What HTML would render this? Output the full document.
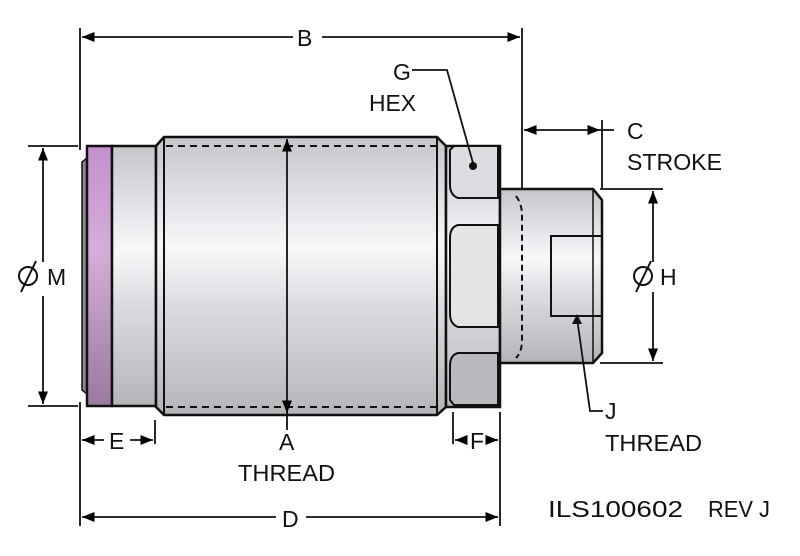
<!DOCTYPE html>
<html><head><meta charset="utf-8"><style>
html,body{margin:0;padding:0;background:#fff;}
svg{display:block;}
text{font-family:"Liberation Sans",sans-serif;font-size:23px;fill:#111;}
</style></head><body>
<svg width="800" height="556" viewBox="0 0 800 556" xmlns="http://www.w3.org/2000/svg">
<defs>
<linearGradient id="g" x1="0" y1="0" x2="0" y2="1">
<stop offset="0" stop-color="#c4c6ca"/><stop offset="0.4" stop-color="#f7f8fa"/><stop offset="0.6" stop-color="#dcdde0"/><stop offset="1" stop-color="#b4b5b8"/>
</linearGradient>
<linearGradient id="p" x1="0" y1="0" x2="0" y2="1">
<stop offset="0" stop-color="#c38fcc"/><stop offset="0.4" stop-color="#d4aed8"/><stop offset="1" stop-color="#9a7a9e"/>
</linearGradient>
<marker id="a" viewBox="0 0 10 10" refX="10" refY="5" markerWidth="7" markerHeight="7" orient="auto-start-reverse"><path d="M0,1 L10,5 L0,9z" fill="#000"/></marker>
</defs>
<g stroke="#111" stroke-width="2.5">
<path d="M87,158 L82,162 L82,390 L87,394z" fill="#888" stroke-width="1.5"/>
<rect x="87" y="146" width="25" height="260" fill="url(#p)"/>
<rect x="112" y="146" width="44" height="260" fill="url(#g)"/>
<path d="M156,146 L164,137 L437,137 L446,146 L446,407 L437,415 L164,415 L156,407z" fill="url(#g)"/>
<line x1="164" y1="137" x2="164" y2="415" stroke-width="2"/>
<line x1="437" y1="137" x2="437" y2="415" stroke-width="2"/>
<rect x="446" y="146" width="54" height="261" fill="url(#g)"/>
<path d="M454,146 L498,146 L498,198 L458,198 Q450,195 450,185 L450,150z" fill="#dcdde0" stroke-width="2"/>
<path d="M458,225 L498,225 L498,327 L458,327 Q450,324 450,314 L450,238 Q450,227 458,225z" fill="#e3e4e6" stroke-width="2"/>
<path d="M458,353 L498,353 L498,405 L454,405 L450,400 L450,366 Q450,355 458,353z" fill="#b8b9bc" stroke-width="2"/>
<path d="M500,189 L593,189 L602,200 L602,353 L593,363 L500,363z" fill="url(#g)"/>
<line x1="593" y1="189" x2="593" y2="363" stroke-width="1.5"/>
<rect x="551" y="236" width="51" height="80" fill="none" stroke-width="2"/>
<path d="M516,196 Q522,204 522,215 L522,340 Q522,352 516,358" fill="none" stroke-dasharray="6,4" stroke-width="2"/>
<line x1="166" y1="146" x2="438" y2="146" stroke-dasharray="7,5" stroke-width="2"/>
<line x1="166" y1="407" x2="438" y2="407" stroke-dasharray="7,5" stroke-width="2"/>
</g>
<g stroke="#111" stroke-width="1.8" fill="none">
<line x1="80" y1="28" x2="80" y2="150"/><line x1="80" y1="402" x2="80" y2="526"/>
<line x1="522" y1="28" x2="522" y2="190"/>
<line x1="500" y1="412" x2="500" y2="526"/>
<line x1="155" y1="420" x2="155" y2="444"/><line x1="453" y1="412" x2="453" y2="444"/>
<line x1="602" y1="120" x2="602" y2="188"/>
<line x1="600" y1="189" x2="663" y2="189"/><line x1="600" y1="363" x2="663" y2="363"/>
<line x1="28" y1="146" x2="78" y2="146"/><line x1="28" y1="406" x2="78" y2="406"/>
<line x1="82" y1="37" x2="293" y2="37" marker-start="url(#a)"/><line x1="322" y1="37" x2="520" y2="37" marker-end="url(#a)"/>
<line x1="82" y1="517" x2="276" y2="517" marker-start="url(#a)"/><line x1="306" y1="517" x2="498" y2="517" marker-end="url(#a)"/>
<line x1="43" y1="148" x2="43" y2="262" marker-start="url(#a)"/><line x1="43" y1="296" x2="43" y2="404" marker-end="url(#a)"/>
<line x1="287" y1="139" x2="287" y2="413" marker-start="url(#a)" marker-end="url(#a)"/>
<line x1="287" y1="413" x2="287" y2="430"/>
<line x1="653" y1="191" x2="653" y2="262" marker-start="url(#a)"/><line x1="653" y1="292" x2="653" y2="361" marker-end="url(#a)"/>
<line x1="524" y1="130" x2="600" y2="130" marker-start="url(#a)" marker-end="url(#a)"/><line x1="600" y1="130" x2="614" y2="130"/>
<line x1="82" y1="440" x2="104" y2="440" marker-start="url(#a)"/><line x1="130" y1="440" x2="153" y2="440" marker-end="url(#a)"/>
<line x1="455" y1="440" x2="463" y2="440" marker-start="url(#a)"/><line x1="490" y1="440" x2="498" y2="440" marker-end="url(#a)"/>
<polyline points="412,70 447,70 473,163"/>
<polyline points="577,318 590,411 603,411"/>
</g>
<circle cx="473" cy="166" r="4" fill="#111"/>
<path d="M572,324 L577,314 L582,324z" fill="#111"/>
<text x="297" y="46">B</text>
<text x="393" y="80">G</text>
<text x="369" y="111" textLength="47" lengthAdjust="spacingAndGlyphs">HEX</text>
<text x="627" y="139">C</text>
<text x="627" y="170" textLength="95" lengthAdjust="spacingAndGlyphs">STROKE</text>
<g stroke="#111" stroke-width="2" fill="none"><circle cx="28" cy="276" r="9"/><line x1="21" y1="292" x2="36" y2="261"/>
<circle cx="643" cy="276" r="9"/><line x1="636" y1="292" x2="651" y2="261"/></g>
<text x="47" y="285">M</text>
<text x="660" y="285">H</text>
<text x="605" y="419">J</text>
<text x="605" y="451" textLength="97" lengthAdjust="spacingAndGlyphs">THREAD</text>
<text x="279" y="450">A</text>
<text x="238" y="481" textLength="97" lengthAdjust="spacingAndGlyphs">THREAD</text>
<text x="109" y="449">E</text>
<text x="470" y="449">F</text>
<text x="282" y="527">D</text>
<text x="548" y="517" textLength="135" lengthAdjust="spacingAndGlyphs">ILS100602</text>
<text x="708" y="517" textLength="62" lengthAdjust="spacingAndGlyphs">REV J</text>
</svg>
</body></html>
